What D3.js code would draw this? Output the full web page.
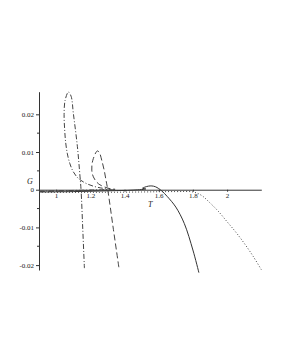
<!DOCTYPE html>
<html>
<head>
<meta charset="utf-8">
<script src="https://cdn.jsdelivr.net/npm/d3@7"></script>
<style>
  body { margin: 0; background: #fff; }
  .tick text { font-family: "Liberation Serif", serif; font-size: 7px; }
  .lbl { font-family: "Liberation Serif", serif; font-size: 8px; font-style: italic; }
</style>
</head>
<body>
<div id="chart"></div>
<script>
// tick labels
var xTicks = [1, 1.2, 1.4, 1.6, 1.8, 2];
var yTicks = [-0.02, -0.01, 0, 0.01, 0.02];
var yMinor = [-0.015, -0.005, 0.005, 0.015];

// dash-dot curve (swallowtail with highest loop)
var ddT = [0.9, 1.0, 1.1, 1.2, 1.28, 1.32, 1.30, 1.27, 1.22, 1.17, 1.13, 1.10, 1.08, 1.066, 1.056, 1.05, 1.0468, 1.0526, 1.072, 1.0877, 1.101, 1.1246, 1.14, 1.146, 1.156, 1.1655];
var ddG = [-0.0004, -0.0003, -0.0002, -0.0001, 0.0, 0.0001, 0.0002, 0.0004, 0.0009, 0.0018, 0.0030, 0.0048, 0.0070, 0.0095, 0.0125, 0.0160, 0.0200, 0.0237, 0.0259, 0.0248, 0.0202, 0.0114, 0.0034, -0.0001, -0.0105, -0.0208];

// long dashed curve
var dsT = [0.9, 1.0, 1.1, 1.2, 1.3, 1.345, 1.304, 1.247, 1.218, 1.2088, 1.2146, 1.2415, 1.2544, 1.267, 1.281, 1.292, 1.302, 1.335, 1.368];
var dsG = [-0.0005, -0.0004, -0.0003, -0.0002, -0.0001, 0.0001, 0.0004, 0.0016, 0.0034, 0.0052, 0.0078, 0.0103, 0.0097, 0.0078, 0.0052, 0.0025, 0.0, -0.0105, -0.0209];

// solid curve
var soT = [0.9, 1.1, 1.3, 1.45, 1.525, 1.505, 1.52, 1.54, 1.56, 1.58, 1.60, 1.62, 1.65, 1.70, 1.75, 1.80, 1.835];
var soG = [-0.0006, -0.0005, -0.0003, -0.0001, 0.0002, 0.0004, 0.0007, 0.00095, 0.001, 0.0008, 0.0003, -0.0004, -0.0018, -0.0046, -0.0090, -0.0160, -0.0220];

// dotted curve
var dtT = [0.9, 1.2, 1.5, 1.7, 1.8, 1.85, 1.9, 1.95, 2.0, 2.05, 2.1, 2.15, 2.2];
var dtG = [-0.0007, -0.0007, -0.0006, -0.0005, -0.0006, -0.0015, -0.0035, -0.0058, -0.0085, -0.0112, -0.0142, -0.0175, -0.0212];

var W = 281, H = 363;
var svg = d3.select('#chart').append('svg')
    .attr('width', W).attr('height', H);

var x = d3.scaleLinear().domain([0.9, 2.2]).range([39, 261.3]);
var y = d3.scaleLinear().domain([-0.0213, 0.026]).range([270, 91.7]);

// axes
var xAxis = svg.append('g')
    .attr('transform', 'translate(0,' + y(0) + ')')
    .call(d3.axisBottom(x).tickValues(xTicks).tickSize(2).tickSizeOuter(0)
      .tickFormat(d => String(d)));
xAxis.select('.domain').attr('stroke', '#333');
xAxis.selectAll('.tick line').attr('stroke', '#333');
xAxis.selectAll('.tick text').attr('dy', '0.9em').attr('y', 2).attr('fill', '#222');

var yAxis = svg.append('g')
    .attr('transform', 'translate(' + x(0.9) + ',0)')
    .call(d3.axisLeft(y).tickValues(yTicks).tickSize(3).tickSizeOuter(0)
      .tickFormat(d => d === 0 ? '0' : d3.format('.2f')(d).replace('−', '-')));
yAxis.select('.domain').attr('stroke', '#333');
yAxis.selectAll('.tick line').attr('stroke', '#333');
yAxis.selectAll('.tick text').attr('x', -5).attr('fill', '#222');

svg.append('g').selectAll('line')
  .data(yMinor).enter().append('line')
    .attr('x1', x(0.9) - 2).attr('x2', x(0.9))
    .attr('y1', d => y(d)).attr('y2', d => y(d))
    .attr('stroke', '#333');

svg.append('text').attr('class', 'lbl').attr('fill', '#222')
    .attr('x', 27).attr('y', 184).text('G');
svg.append('text').attr('class', 'lbl').attr('fill', '#222')
    .attr('x', 148).attr('y', 207).text('T');

// curves
var line = d3.line()
    .x(d => x(d[0])).y(d => y(d[1]))
    .curve(d3.curveCatmullRom.alpha(0.5));

function draw(ts, gs, dash, col) {
  svg.append('path')
    .datum(d3.zip(ts, gs))
    .attr('d', line)
    .attr('fill', 'none')
    .attr('stroke', col)
    .attr('stroke-width', 1)
    .attr('stroke-dasharray', dash);
}

draw(dtT, dtG, '1,2', '#444');
draw(soT, soG, null, '#333');
draw(dsT, dsG, '6,3', '#444');
draw(ddT, ddG, '5,2,1,2', '#444');
</script>
</body>
</html>
